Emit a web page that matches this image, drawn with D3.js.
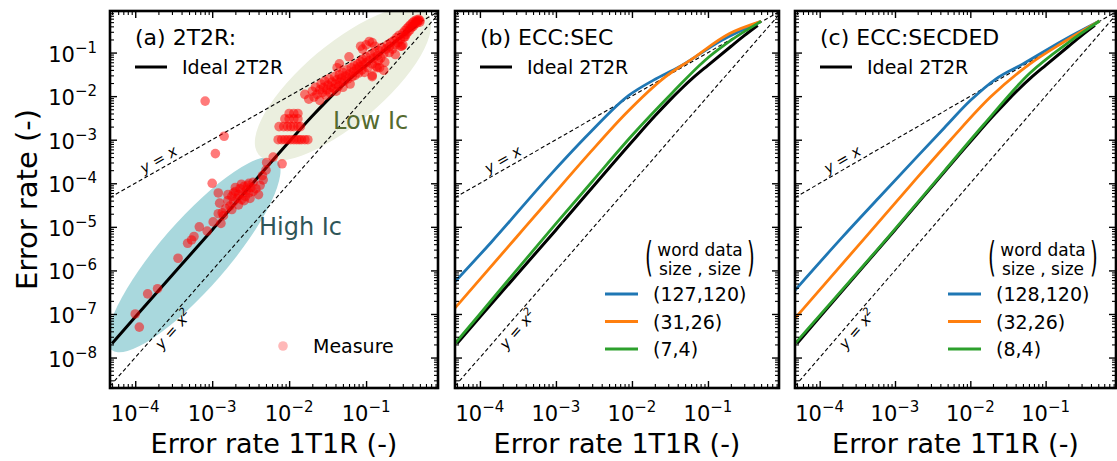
<!DOCTYPE html>
<html><head><meta charset="utf-8">
<script src="https://cdn.jsdelivr.net/npm/d3@7/dist/d3.min.js"></script>
<style>
html,body{margin:0;padding:0;background:#fff;}
svg{display:block;font-family:"DejaVu Sans",sans-serif;}
</style></head><body>
<svg id="chart" width="1117" height="461"></svg>
<script>
// ================= DATA =================
const xMajorTicks = [1e-4, 1e-3, 1e-2, 1e-1];
const xTickExponents = ["\u22124", "\u22123", "\u22122", "\u22121"];
const yMajorTicks = [1e-8, 1e-7, 1e-6, 1e-5, 1e-4, 1e-3, 1e-2, 1e-1];
const yTickExponents = ["\u22128", "\u22127", "\u22126", "\u22125", "\u22124", "\u22123", "\u22122", "\u22121"];

const panelTitles = ["(a) 2T2R:", "(b) ECC:SEC", "(c) ECC:SECDED"];
const xAxisLabel = "Error rate 1T1R (-)";
const yAxisLabel = "Error rate (-)";
const idealLabel = "Ideal 2T2R";
const measureLabel = "Measure";

// ideal 2T2R curve
const idealX = [5e-5, 1e-4, 1e-3, 1e-2, 2e-2, 3e-2, 4.5e-2, 6.4e-2, 0.1, 0.2, 0.3, 0.45];
const idealY = [2.1e-8, 8.5e-8, 8.5e-6, 9e-4, 3.5e-3, 7.4e-3, 1.5e-2, 2.65e-2, 5.1e-2, 0.138, 0.245, 0.42];

// ECC:SEC (panel b)
const secNames = ["(127,120)", "(31,26)", "(7,4)"];
const sec127X = [4.7e-5, 1.42e-4, 9.1e-4, 2.75e-3, 9.1e-3, 1.9e-2, 4.1e-2, 0.15, 0.5];
const sec127Y = [5.5e-7, 4.5e-6, 1.8e-4, 1.4e-3, 1.04e-2, 2.3e-2, 4.6e-2, 0.19, 0.52];
const sec31X = [4.7e-5, 3e-4, 8.2e-4, 2.75e-3, 8.3e-3, 2.7e-2, 6.2e-2, 0.19, 0.5];
const sec31Y = [1.37e-7, 5.7e-6, 4.3e-5, 4.84e-4, 4e-3, 2.7e-2, 7.2e-2, 0.27, 0.52];
const sec7X = [4.7e-5, 1e-4, 3e-4, 1e-3, 3e-3, 1e-2, 3.4e-2, 9.1e-2, 0.2, 0.5];
const sec7Y = [2.1e-8, 1.0e-7, 9.9e-7, 1.18e-5, 1.1e-4, 1.25e-3, 1.2e-2, 6.6e-2, 0.19, 0.52];

// ECC:SECDED (panel c)
const secdedNames = ["(128,120)", "(32,26)", "(8,4)"];
const ded128X = [4.7e-5, 2e-4, 6.1e-4, 2e-3, 4.5e-3, 1e-2, 2.2e-2, 5e-2, 0.17, 0.52];
const ded128Y = [3.5e-7, 5.8e-6, 4.65e-5, 4.2e-4, 1.86e-3, 7.9e-3, 2.5e-2, 5.5e-2, 0.19, 0.53];
const ded32X = [4.7e-5, 4.1e-4, 1.66e-3, 5.5e-3, 1.85e-2, 6.2e-2, 0.17, 0.52];
const ded32Y = [7.95e-8, 5.9e-6, 9.6e-5, 1e-3, 9.5e-3, 5.5e-2, 0.17, 0.53];
const ded8X = [4.7e-5, 9e-4, 4.5e-3, 1.5e-2, 6.2e-2, 0.2, 0.52];
const ded8Y = [2.1e-8, 7.2e-6, 1.9e-4, 2.2e-3, 3.4e-2, 0.17, 0.53];

// measured 2T2R error rate vs 1T1R error rate (panel a)
const measureHighIc = [
 [1.0e-4,1.0e-7],[1.13e-4,5e-8],[1.45e-4,2.9e-7],[1.95e-4,3.8e-7],[3.6e-4,1.9e-6],[4.8e-4,4.2e-6],
 [5.4e-4,5e-6],[5.8e-4,6e-6],[6.8e-4,1e-5],[8.6e-4,8e-6],[1.03e-3,1.3e-5],[1.3e-3,1.2e-5],
 [1.2e-3,2e-5],[1.35e-3,2.1e-5],[1.25e-3,3.5e-5],[1.2e-3,6e-5],[1.5e-3,2.6e-5],[1.6e-3,4e-5],
 [1.7e-3,3e-5],[1.8e-3,5e-5],[1.9e-3,3.8e-5],[2.0e-3,6.5e-5],[2.1e-3,4.5e-5],[2.2e-3,5.5e-5],
 [2.3e-3,7.5e-5],[2.4e-3,4.2e-5],[2.5e-3,6e-5],[2.6e-3,8.5e-5],[2.7e-3,5e-5],[2.8e-3,7e-5],
 [2.9e-3,9e-5],[3.0e-3,6e-5],[3.1e-3,4.5e-5],[3.2e-3,8e-5],[3.4e-3,6.5e-5],[3.4e-3,1.05e-4],
 [3.7e-3,7.5e-5],[4.0e-3,5.5e-5],[4.2e-3,9e-5],[4.6e-3,1.2e-4],[5.1e-3,3e-4],[6.2e-3,4e-4],
 [8.1e-3,2.8e-4],[5.0e-3,2.0e-4],[4.5e-3,1.5e-4],[1.8e-3,2.5e-5],[2.2e-3,3.2e-5],[1.6e-3,5.5e-5],
 [2.0e-3,8e-5],[1.4e-3,1.8e-5],[2.6e-3,4e-5],[3.0e-3,1.0e-4],[1.9e-3,6e-5],[2.4e-3,9.5e-5]
];
const measureOutliers = [[8.1e-4,7.7e-3],[1.43e-3,1.2e-3],[1.1e-3,4.8e-4],[1.0e-3,1.0e-4]];
const measureLowIc = [
 [7.2e-3,1e-3],[8e-3,1e-3],[8.8e-3,1e-3],[9.6e-3,1e-3],[1.05e-2,1e-3],[1.15e-2,1e-3],[1.25e-2,1e-3],
 [1.35e-2,1e-3],[1.45e-2,1e-3],[1.6e-2,1e-3],[1.75e-2,1e-3],
 [7.4e-3,2e-3],[8.5e-3,2e-3],[9.5e-3,2e-3],[1.05e-2,2e-3],[1.15e-2,2e-3],[1.3e-2,2e-3],[1.4e-2,2e-3],
 [8.8e-3,3e-3],[1.0e-2,3e-3],[1.15e-2,3e-3],[1.3e-2,3e-3],
 [1.0e-2,4e-3],[1.15e-2,4e-3],[1.3e-2,4e-3],
 [0.016,0.011],[0.018,0.0085],[0.02,0.013],[0.021,0.0095],[0.022,0.016],[0.023,0.011],[0.025,0.008],
 [0.025,0.014],[0.026,0.019],[0.027,0.012],[0.028,0.016],[0.029,0.022],[0.03,0.0105],[0.031,0.014],
 [0.032,0.018],[0.033,0.025],[0.034,0.012],[0.035,0.016],[0.036,0.021],[0.038,0.015],[0.039,0.028],
 [0.04,0.019],[0.041,0.013],[0.042,0.024],[0.044,0.017],[0.045,0.031],[0.046,0.021],[0.048,0.026],
 [0.05,0.016],[0.05,0.035],[0.052,0.022],[0.054,0.029],[0.056,0.04],[0.058,0.025],[0.06,0.032],
 [0.062,0.019],[0.064,0.045],[0.066,0.028],[0.068,0.036],[0.07,0.05],[0.072,0.03],[0.075,0.042],
 [0.078,0.055],[0.08,0.034],[0.082,0.047],[0.085,0.062],[0.088,0.04],[0.09,0.07],[0.092,0.052],
 [0.095,0.035],[0.1,0.058],[0.1,0.08],[0.105,0.045],[0.11,0.066],[0.115,0.09],[0.12,0.055],
 [0.12,0.03],[0.125,0.075],[0.13,0.1],[0.135,0.048],[0.14,0.085],[0.145,0.065],[0.15,0.11],
 [0.155,0.075],[0.16,0.13],[0.17,0.095],[0.175,0.06],[0.18,0.12],[0.19,0.15],[0.2,0.1],[0.2,0.135],
 [0.21,0.17],[0.22,0.12],[0.23,0.19],[0.24,0.15],[0.25,0.22],[0.26,0.17],[0.27,0.25],[0.28,0.2],
 [0.29,0.14],[0.3,0.28],[0.31,0.23],[0.32,0.32],[0.33,0.26],[0.34,0.36],[0.35,0.3],[0.36,0.4],
 [0.37,0.33],[0.38,0.44],[0.39,0.38],[0.4,0.48],[0.41,0.4],[0.42,0.52],[0.43,0.45],[0.44,0.5],
 [0.45,0.56],[0.46,0.48],[0.47,0.53],[0.48,0.58],[0.5,0.55],[0.5,0.5],[0.085,0.14],[0.1,0.15],
 [0.12,0.17],[0.09,0.12],[0.24,0.09],[0.3,0.15],[0.15,0.045],[0.06,0.08],[0.045,0.055],
 [0.11,0.18],[0.13,0.14],[0.28,0.14],[0.32,0.23],[0.14,0.045],[0.17,0.039],[0.12,0.028],[0.042,0.045]
];

// annotation ellipses (centre in data units)
const ellipseCentersX = [5.8e-4, 5.0e-2];
const ellipseCentersY = [2.3e-6, 1.9e-2];
const ellipseNames = ["High Ic", "Low Ic"];

// ================= RENDER =================
const svg = d3.select("#chart");
const T = 11, B = 388;
const panelBox = [[110, 438], [455, 779], [795, 1116]];
const xDom = [4.7e-5, 0.86], yDom = [2e-9, 0.9];
const tab = {blue: "#1f77b4", orange: "#ff7f0e", green: "#2ca02c"};

function zipXY(xs, ys) { return xs.map((v, i) => [v, ys[i]]); }

panelBox.forEach((pb, pi) => {
  const x = d3.scaleLog().domain(xDom).range(pb);
  const y = d3.scaleLog().domain(yDom).range([B, T]);
  const clipId = "clip" + pi;
  svg.append("clipPath").attr("id", clipId).append("rect")
    .attr("x", pb[0]).attr("y", T).attr("width", pb[1] - pb[0]).attr("height", B - T);
  const plot = svg.append("g").attr("clip-path", `url(#${clipId})`);
  const line = d3.line().x(d => x(d[0])).y(d => y(d[1])).curve(d3.curveMonotoneX);

  if (pi === 0) {
    const specs = [
      {rx: 126, ry: 34, ang: -49, fill: "#a9d8dd"},
      {rx: 110, ry: 40, ang: -40, fill: "#ebefdf"}
    ];
    specs.forEach((s, k) => {
      plot.append("ellipse")
        .attr("transform", `translate(${x(ellipseCentersX[k])},${y(ellipseCentersY[k])}) rotate(${s.ang})`)
        .attr("rx", s.rx).attr("ry", s.ry).attr("fill", s.fill);
    });
  }

  const refX = xDom;
  const straight = d3.line().x(d => x(d[0])).y(d => y(d[1]));
  plot.append("path").datum(refX.map(v => [v, v])).attr("d", straight)
    .attr("fill", "none").attr("stroke", "#000").attr("stroke-width", 1.1).attr("stroke-dasharray", "4,2.6");
  plot.append("path").datum(refX.map(v => [v, v * v])).attr("d", straight)
    .attr("fill", "none").attr("stroke", "#000").attr("stroke-width", 1.1).attr("stroke-dasharray", "4,2.6");

  plot.append("path").datum(zipXY(idealX, idealY)).attr("d", line)
    .attr("fill", "none").attr("stroke", "#000").attr("stroke-width", 3);

  if (pi === 0) {
    const all = measureHighIc.concat(measureOutliers, measureLowIc);
    plot.selectAll("circle.m").data(all).enter().append("circle")
      .attr("cx", d => x(d[0])).attr("cy", d => y(d[1])).attr("r", 4.8)
      .attr("fill", "red").attr("fill-opacity", 0.52);
  } else {
    const series = pi === 1
      ? [[sec127X, sec127Y], [sec31X, sec31Y], [sec7X, sec7Y]]
      : [[ded128X, ded128Y], [ded32X, ded32Y], [ded8X, ded8Y]];
    const cols = [tab.blue, tab.orange, tab.green];
    series.forEach((s, k) => {
      plot.append("path").datum(zipXY(s[0], s[1])).attr("d", line)
        .attr("fill", "none").attr("stroke", cols[k]).attr("stroke-width", 2.8);
    });
  }

  // y=x labels
  const ang1 = Math.atan2(y(1e-1) - y(1e-3), x(1e-1) - x(1e-3)) * 180 / Math.PI;
  const ang2 = Math.atan2(y(1e-2) - y(1e-4), x(1e-1) - x(1e-2)) * 180 / Math.PI;
  const lx1 = 2.3e-4, lx2 = 2.5e-4;
  svg.append("text").attr("transform", `translate(${x(lx1)},${y(lx1)}) rotate(${ang1})`)
    .attr("dy", -4).attr("text-anchor", "middle").attr("font-size", 15).attr("font-style", "italic")
    .text("y = x");
  const t2 = svg.append("text").attr("transform", `translate(${x(lx2)},${y(lx2 * lx2)}) rotate(${ang2})`)
    .attr("dy", 15).attr("text-anchor", "middle").attr("font-size", 15).attr("font-style", "italic");
  t2.append("tspan").text("y = x");
  t2.append("tspan").attr("dy", -6).attr("font-size", 10.5).text("2");

  // ticks (inward, all four sides)
  const isMajor = v => Math.abs(Math.log10(v) - Math.round(Math.log10(v))) < 1e-6;
  const minors = x.ticks().filter(v => !isMajor(v));
  const yMinors = y.ticks().filter(v => !isMajor(v));
  const tickGroups = [
    [() => d3.axisBottom(x), `translate(0,${B})`, xMajorTicks, minors],
    [() => d3.axisTop(x), `translate(0,${T})`, xMajorTicks, minors],
    [() => d3.axisLeft(y), `translate(${pb[0]},0)`, yMajorTicks, yMinors],
    [() => d3.axisRight(y), `translate(${pb[1]},0)`, yMajorTicks, yMinors]
  ];
  tickGroups.forEach(([mk, tr, maj, mino]) => {
    const g1 = svg.append("g").attr("transform", tr)
      .call(mk().tickValues(maj).tickSize(-7).tickFormat(""));
    g1.select(".domain").remove();
    g1.selectAll("line").attr("stroke-width", 1.4);
    const g2 = svg.append("g").attr("transform", tr)
      .call(mk().tickValues(mino).tickSize(-4).tickFormat(""));
    g2.select(".domain").remove();
    g2.selectAll("line").attr("stroke-width", 1.1);
  });

  svg.append("rect").attr("x", pb[0]).attr("y", T).attr("width", pb[1] - pb[0]).attr("height", B - T)
    .attr("fill", "none").attr("stroke", "#000").attr("stroke-width", 2.6);

  // x tick labels
  xMajorTicks.forEach((v, k) => {
    const t = svg.append("text").attr("x", x(v)).attr("y", 421).attr("text-anchor", "middle").attr("font-size", 21);
    t.append("tspan").text("10");
    t.append("tspan").attr("dy", -9).attr("font-size", 15).text(xTickExponents[k]);
  });
  svg.append("text").attr("x", (pb[0] + pb[1]) / 2).attr("y", 453).attr("text-anchor", "middle")
    .attr("font-size", 27).text(xAxisLabel);

  const lx = pb[0] + 25;
  svg.append("text").attr("x", lx).attr("y", 45).attr("font-size", 22).text(panelTitles[pi]);
  svg.append("line").attr("x1", lx).attr("x2", lx + 32).attr("y1", 67).attr("y2", 67)
    .attr("stroke", "#000").attr("stroke-width", 3);
  svg.append("text").attr("x", lx + 47).attr("y", 74).attr("font-size", 19).text(idealLabel);

  if (pi === 0) {
    yMajorTicks.forEach((v, k) => {
      const t = svg.append("text").attr("x", 97).attr("y", y(v) + 9).attr("text-anchor", "end").attr("font-size", 21);
      t.append("tspan").text("10");
      t.append("tspan").attr("dy", -9).attr("font-size", 15).text(yTickExponents[k]);
    });
    svg.append("text").attr("transform", `translate(37,${(T + B) / 2}) rotate(-90)`)
      .attr("text-anchor", "middle").attr("font-size", 29).text(yAxisLabel);
    svg.append("circle").attr("cx", 283).attr("cy", 346).attr("r", 4.8).attr("fill", "red").attr("fill-opacity", 0.28);
    svg.append("text").attr("x", 313).attr("y", 353).attr("font-size", 19).text(measureLabel);
    svg.append("text").attr("x", 333).attr("y", 129).attr("font-size", 24).attr("fill", "#556b2f").text(ellipseNames[1]);
    svg.append("text").attr("x", 259).attr("y", 235).attr("font-size", 24).attr("fill", "#2f5558").text(ellipseNames[0]);
  } else {
    const names = pi === 1 ? secNames : secdedNames;
    const lx0 = pi === 1 ? 605 : 948;
    const hx = lx0 + 40;
    svg.append("text").attr("transform", `translate(${hx},271) scale(0.5,1)`).attr("font-size", 40).text("(");
    svg.append("text").attr("transform", `translate(${hx + 102},271) scale(0.5,1)`).attr("font-size", 40).text(")");
    svg.append("text").attr("x", hx + 55).attr("y", 256).attr("text-anchor", "middle").attr("font-size", 17).text("word data");
    svg.append("text").attr("x", hx + 55).attr("y", 275).attr("text-anchor", "middle").attr("font-size", 17).text("size , size");
    const cols = [tab.blue, tab.orange, tab.green];
    names.forEach((nm, k) => {
      const yy = 294 + k * 27.5;
      svg.append("line").attr("x1", lx0).attr("x2", lx0 + 33).attr("y1", yy).attr("y2", yy)
        .attr("stroke", cols[k]).attr("stroke-width", 3);
      svg.append("text").attr("x", lx0 + 48).attr("y", yy + 7).attr("font-size", 19).text(nm);
    });
  }
});
</script>
</body></html>
